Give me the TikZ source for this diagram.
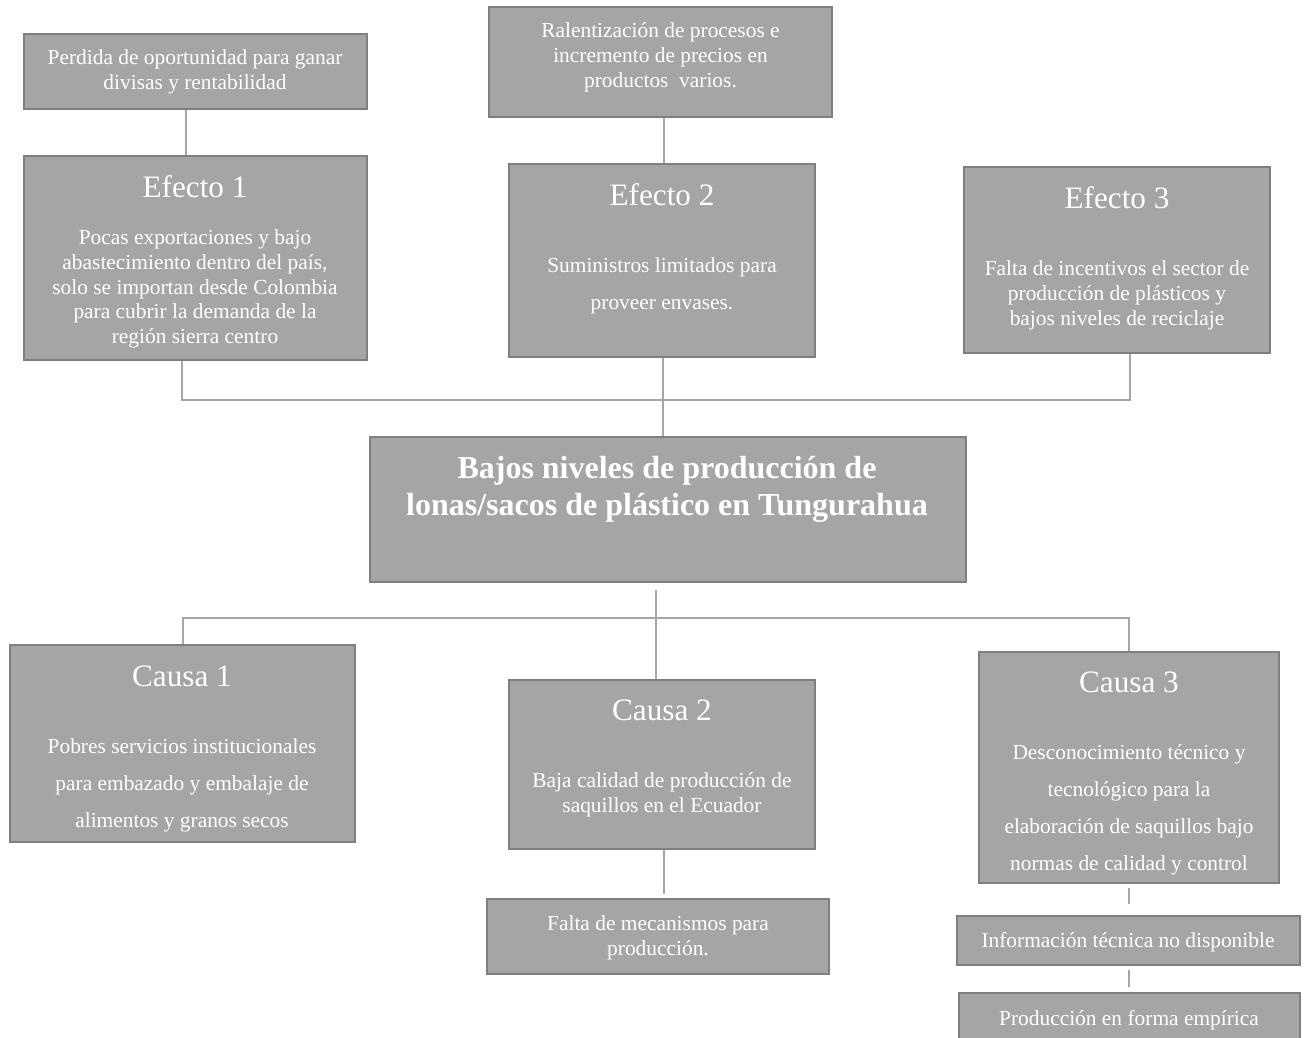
\documentclass[tikz,border=0pt]{standalone}
\usepackage{fontspec}
\setmainfont{Liberation Serif}
\usepackage{tikz}
\usetikzlibrary{positioning}
\definecolor{boxfill}{HTML}{A5A5A5}
\definecolor{boxline}{HTML}{7F7F7F}
\definecolor{linkgray}{HTML}{A6A6A6}
\newcommand{\bodyfont}{\fontsize{10.7}{12.4}\selectfont}
\newcommand{\headfont}{\fontsize{15.6}{18}\selectfont}

\begin{document}
\begin{tikzpicture}[
    x=0.5pt, y=-0.5pt,
    every node/.style={text=white},
    block/.style={
        rectangle, draw=boxline, fill=boxfill, line width=1.2pt, inner sep=0pt
    },
    head/.style={font=\headfont, inner sep=0pt},
    body/.style={font=\bodyfont, align=center, inner sep=0pt},
    wide/.style={font=\fontsize{10.7}{18.5}\selectfont, align=center, inner sep=0pt},
    link/.style={draw=linkgray, line width=1pt}
]
\useasboundingbox (0,0) rectangle (1308,1038);

% Boxes
\node[block, minimum width=171.5pt, minimum height=37.5pt]  (P1) at (195.5, 71.5)  {};
\node[block, minimum width=171.5pt, minimum height=102pt]   (E1) at (195.5, 258)   {};
\node[block, minimum width=171.5pt, minimum height=55pt]    (R2) at (660.5, 62)    {};
\node[block, minimum width=153pt,   minimum height=96.5pt]  (E2) at (662,   260.5) {};
\node[block, minimum width=153pt,   minimum height=93pt]    (E3) at (1117,  260)   {};
\node[block, minimum width=298pt,   minimum height=72.5pt]  (PB) at (668,   509.5) {};
\node[block, minimum width=172.5pt, minimum height=98.5pt]  (C1) at (182.5, 743.5) {};
\node[block, minimum width=153pt,   minimum height=84.5pt]  (C2) at (662,   764.5) {};
\node[block, minimum width=150pt,   minimum height=115.5pt] (C3) at (1129,  767.5) {};
\node[block, minimum width=171pt,   minimum height=37.5pt]  (F2) at (658,   936.5) {};
\node[block, minimum width=171.5pt, minimum height=24.5pt]  (I3) at (1128.5, 940.5) {};
\node[block, minimum width=170.5pt, minimum height=26pt]    (Q3) at (1129.5, 1019) {};

% Texts
\node[body] (P1t) at (195, 72) {Perdida de oportunidad para ganar\\divisas y rentabilidad};
\node[head] (E1h) at (195, 187) {Efecto 1};
\node[body] (E1t) at (195, 289) {Pocas exportaciones y bajo\\abastecimiento dentro del país,\\solo se importan desde Colombia\\para cubrir la demanda de la\\región sierra centro};
\node[body] (R2t) at (660.5, 57.5) {Ralentización de procesos e\\incremento de precios en\\productos~ varios.};
\node[head] (E2h) at (662, 195) {Efecto 2};
\node[wide] (E2t) at (662, 286) {Suministros limitados para\\proveer envases.};
\node[head] (E3h) at (1117, 198) {Efecto 3};
\node[body] (E3t) at (1117, 295.5) {Falta de incentivos el sector de\\producción de plásticos y\\bajos niveles de reciclaje};
\node[font=\fontsize{16}{18.5}\selectfont\bfseries, align=center, inner sep=0pt] (PBt) at (667, 489.5)
  {Bajos niveles de producción de\\lonas/sacos de plástico en Tungurahua};
\node[head] (C1h) at (182, 676) {Causa 1};
\node[wide] (C1t) at (182, 785) {Pobres servicios institucionales\\para embazado y embalaje de\\alimentos y granos secos};
\node[head] (C2h) at (662, 710) {Causa 2};
\node[body] (C2t) at (662, 794.5) {Baja calidad de producción de\\saquillos en el Ecuador};
\node[head] (C3h) at (1129, 682) {Causa 3};
\node[wide] (C3t) at (1129, 809.5) {Desconocimiento técnico y\\tecnológico para la\\elaboración de saquillos bajo\\normas de calidad y control};
\node[body] (F2t) at (658, 937.5) {Falta de mecanismos para\\producción.};
\node[body] (I3t) at (1128, 942) {Información técnica no disponible};
\node[body] (Q3t) at (1129, 1020) {Producción en forma empírica};

% Connectors, effects side
\coordinate (topbar) at (663, 400);
\coordinate (botbar) at (656, 618);
\draw[link] ([xshift=-4.75pt]P1.south) -- ([xshift=-4.75pt]E1.north);
\draw[link] ([xshift=1.75pt]R2.south) -- ([xshift=1.75pt]R2.south |- E2.north);
\draw[link] ([xshift=-6.75pt]E1.south) |- (topbar) -| ([xshift=6.5pt]E3.south);
\draw[link] ([xshift=0.5pt]E2.south) -- ([xshift=0.5pt]E2.south |- PB.north);

% Connectors, causes side
\draw[link] ([yshift=-3.5pt]PB.south -| botbar) -- (C2.north -| botbar);
\draw[link] (C1.north) |- (botbar) -| (C3.north);
\draw[link] ([xshift=1pt]C2.south) -- ([xshift=1pt, yshift=2pt]C2.south |- F2.north);
\draw[link] ([yshift=-2pt]C3.south) -- ([yshift=5.5pt]C3.south |- I3.north);
\draw[link] ([yshift=-2pt]I3.south) -- ([yshift=2.5pt]I3.south |- Q3.north);

\end{tikzpicture}
\end{document}
